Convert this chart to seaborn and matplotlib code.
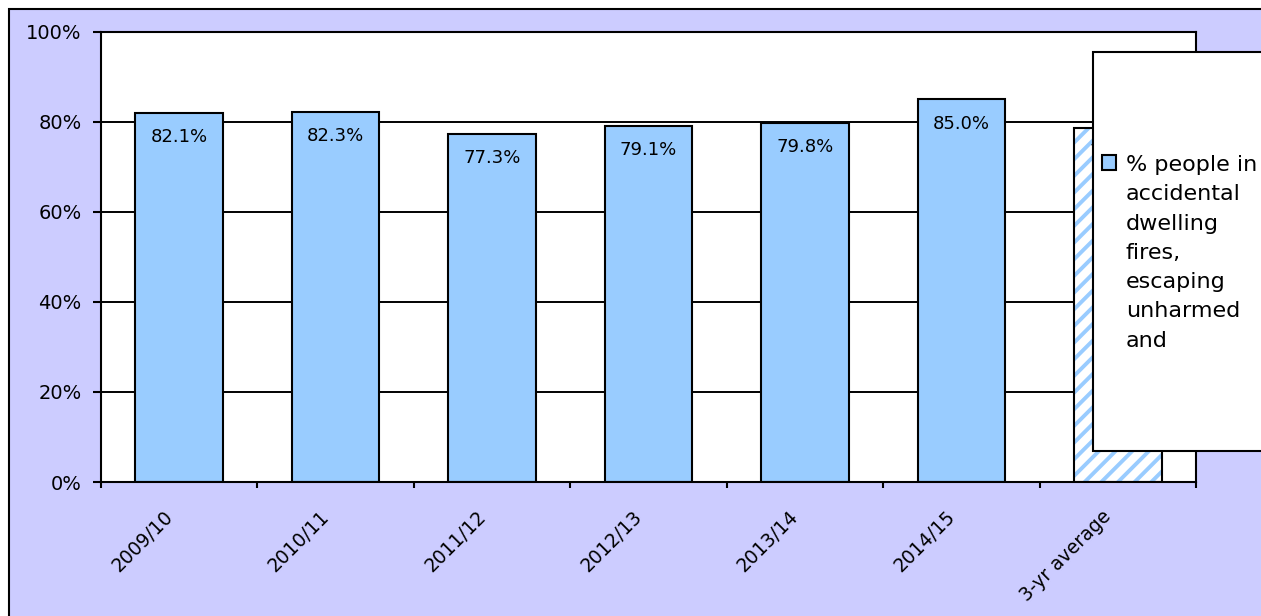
import matplotlib
matplotlib.use("Agg")
import matplotlib.pyplot as plt
import matplotlib.transforms as mtransforms
import seaborn as sns
import numpy as np
from matplotlib.patches import Rectangle

# chart data
categories = ["2009/10", "2010/11", "2011/12", "2012/13", "2013/14", "2014/15", "3-yr average"]
values = [82.1, 82.3, 77.3, 79.1, 79.8, 85.0, 78.7]
value_labels = [f"{v:.1f}%" for v in values]
y_ticks = [0, 20, 40, 60, 80, 100]
y_tick_labels = [f"{t}%" for t in y_ticks]
series_name = "% people in\naccidental\ndwelling\nfires,\nescaping\nunharmed\nand"

BAR_COLOR = "#99CCFF"
BG_COLOR = "#CCCCFF"

sns.set_style("ticks")
plt.rcParams["font.family"] = ["DejaVu Sans"]
plt.rcParams.update({"text.color": "black", "xtick.color": "black", "ytick.color": "black",
                     "axes.labelcolor": "black", "hatch.linewidth": 2.8})

W, H = 1261, 616
fig = plt.figure(figsize=(W / 100, H / 100), dpi=100)
fig.patch.set_facecolor("white")

# lavender chart area with black border (runs off right/bottom edge)
fig.add_artist(Rectangle((9 / W, -0.1), 1.2, 1.1 - 9 / H, transform=fig.transFigure,
                         facecolor=BG_COLOR, edgecolor="black", linewidth=1.5, zorder=-1))

ax = fig.add_axes([101 / W, 1 - 482 / H, (1196 - 101) / W, (482 - 32) / H])
ax.set_facecolor("white")

sns.barplot(x=categories, y=values, color=BAR_COLOR, edgecolor="black", linewidth=1.5,
            width=0.56, saturation=1, ax=ax, zorder=2)

# hatched 3-yr average bar
last = ax.patches[len(values) - 1]
last.set_facecolor("white")
last.set_edgecolor(BAR_COLOR)
last.set_hatch("//")
last.set_linewidth(0)
ax.add_patch(Rectangle(last.get_xy(), last.get_width(), last.get_height(),
                       facecolor="none", edgecolor="black", linewidth=1.5, zorder=3))

# value labels inside the bars
for i, (v, lab) in enumerate(zip(values, value_labels)):
    ax.annotate(lab, (i, v), xytext=(0, -11), textcoords="offset points",
                ha="center", va="top", fontsize=13, zorder=4)

ax.set_ylim(0, 100)
ax.set_xlim(-0.5, len(categories) - 0.5)
ax.set_yticks(y_ticks)
ax.set_yticklabels(y_tick_labels, fontsize=14)
ax.yaxis.grid(True, color="black", linewidth=1.4)
ax.set_axisbelow(True)

ax.set_xticks(range(len(categories)))
ax.set_xticks(np.arange(-0.5, len(categories), 1), minor=True)
ax.tick_params(axis="x", which="major", length=0, pad=18)
ax.tick_params(axis="x", which="minor", length=4.5, width=1.5, color="black", direction="out")
ax.tick_params(axis="y", which="major", length=6, width=1.5, color="black", direction="out", pad=8)
ax.set_xticklabels(categories, rotation=45, ha="right", rotation_mode="anchor", fontsize=13.5)
shift = mtransforms.ScaledTranslation(-16 / 100, 0, fig.dpi_scale_trans)
for lbl in ax.get_xticklabels():
    lbl.set_transform(lbl.get_transform() + shift)
ax.set_xlabel("")
ax.set_ylabel("")

for sp in ax.spines.values():
    sp.set_visible(True)
    sp.set_color("black")
    sp.set_linewidth(1.5)

# legend box (clipped by the right edge)
fig.add_artist(Rectangle((1093 / W, 1 - 451 / H), 0.2, (451 - 52) / H, transform=fig.transFigure,
                         facecolor="white", edgecolor="black", linewidth=1.5, zorder=3))
leg = fig.legend(handles=[ax.patches[0]], labels=[series_name], loc="upper left",
                 bbox_to_anchor=(1102 / W, 1 - 155 / H), frameon=False, fontsize=16,
                 handlelength=0.63, handleheight=0.63, handletextpad=0.45,
                 borderpad=0, borderaxespad=0)
leg.set_zorder(5)
for t in leg.get_texts():
    t.set_linespacing(1.58)
# keep the swatch level with the first line of the wrapped label
for col in leg._legend_handle_box.get_children():
    for row in col.get_children():
        row.align = "top"

fig.savefig("out.png", dpi=100)
